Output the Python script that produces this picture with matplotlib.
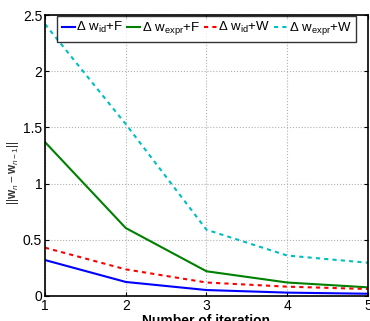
import matplotlib
matplotlib.use("Agg")
import matplotlib.pyplot as plt

plt.rcParams['font.family'] = ['Liberation Sans', 'DejaVu Sans']
plt.rcParams['mathtext.fontset'] = 'custom'
plt.rcParams['mathtext.rm'] = 'Liberation Sans'
plt.rcParams['mathtext.it'] = 'Liberation Sans:italic'
plt.rcParams['mathtext.bf'] = 'Liberation Sans:bold'

iters = [1, 2, 3, 4, 5]
wid_F = [0.32, 0.125, 0.053, 0.03, 0.02]
wexpr_F = [1.37, 0.605, 0.22, 0.12, 0.077]
wid_W = [0.43, 0.237, 0.12, 0.083, 0.062]
wexpr_W = [2.42, 1.53, 0.59, 0.36, 0.296]
labels = [r'$\Delta$ w$_{\mathrm{id}}$+F', r'$\Delta$ w$_{\mathrm{expr}}$+F',
          r'$\Delta$ w$_{\mathrm{id}}$+W', r'$\Delta$ w$_{\mathrm{expr}}$+W']

fig = plt.figure(figsize=(3.7, 3.21), dpi=100)
ax = fig.add_axes([0.1216, 0.0779, 0.873, 0.875])
ax.plot(iters, wid_F, color='#0000ff', lw=1.5, ls='-', label=labels[0])
ax.plot(iters, wexpr_F, color='#008000', lw=1.5, ls='-', label=labels[1])
ax.plot(iters, wid_W, color='#ff0000', lw=1.5, ls=(0, (2, 2)), label=labels[2])
ax.plot(iters, wexpr_W, color='#00bfbf', lw=1.5, ls=(0, (2, 2)), label=labels[3])

ax.set_xlim(1, 5)
ax.set_ylim(0, 2.5)
ax.set_xticks([1, 2, 3, 4, 5])
ax.set_yticks([0, 0.5, 1, 1.5, 2, 2.5])
ax.set_yticklabels(['0', '0.5', '1', '1.5', '2', '2.5'])
ax.tick_params(direction='in', top=True, right=True, labelsize=10, length=3, pad=2)
ax.grid(True, ls=':', color='#b0b0b0', lw=0.8)
for s in ax.spines.values():
    s.set_linewidth(1.2)
ax.set_xlabel('Number of iteration', fontsize=10, fontweight='bold', labelpad=1)
ax.set_ylabel(r'$||\mathbf{w}_n - \mathbf{w}_{n-1}||$', fontsize=8.5, color='#333333')
ax.yaxis.set_label_coords(-0.075, 0.44)

leg = ax.legend(loc='upper center', ncol=4, fontsize=9.5, frameon=True, fancybox=False,
                edgecolor='black', handlelength=1.0, handletextpad=0.1, columnspacing=0.3,
                borderpad=0.35, borderaxespad=0.05, bbox_to_anchor=(0.5, 1.0))
leg.get_frame().set_linewidth(1.0)

fig.savefig('out.png', dpi=100)
